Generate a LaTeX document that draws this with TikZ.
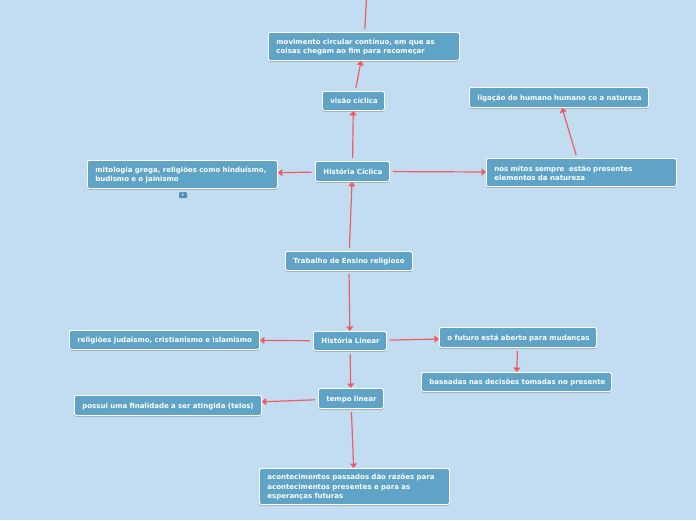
\documentclass[tikz,border=0pt]{standalone}
\usepackage{fontspec}
\setmainfont{DejaVu Sans}
\usetikzlibrary{shadows,arrows.meta}
\definecolor{mapbg}{HTML}{C2DDF1}
\definecolor{boxblue}{HTML}{5FA4C6}
\definecolor{badgeblue}{HTML}{4C8FB8}
\definecolor{linkred}{HTML}{EE5C62}
\tikzset{
    topic/.style={draw=white, fill=boxblue, text=white, rounded corners=1.5pt, line width=0.8pt,
        anchor=north west, inner xsep=8pt, inner ysep=0pt, align=left,
        font=\bfseries\fontsize{7}{9.2}\selectfont,
        execute at begin node={\rule[-1pt]{0pt}{8pt}},
        drop shadow={shadow xshift=0pt, shadow yshift=-1.3pt, fill=black!55, opacity=0.6}},
    link/.style={-{Stealth[width=7pt,length=4.5pt,inset=0pt]}, linkred, line width=1.2pt, shorten <=3pt}
}
\begin{document}
\begin{tikzpicture}[x=1pt,y=-1pt]
    \useasboundingbox[fill=mapbg] (0,0) rectangle (696,520);

    % Upper branch
    \node[topic, text width=175pt, minimum height=28pt] (movimento) at (268,32) {movimento circular contínuo, em que as\\coisas chegam ao fim para recomeçar};
    \node[topic, text width=46pt, minimum height=19pt] (visao) at (322,91) {\mbox{visão cíclica}};
    \node[topic, text width=163pt, minimum height=20pt] (ligacao) at (469,87) {\mbox{ligação do humano humano co a natureza}};
    \node[topic, text width=174pt, minimum height=28pt] (mitologia) at (87,160) {mitologia grega, religiões como hinduísmo,\\budismo e o jainismo};
    \node[topic, text width=58pt, minimum height=20pt] (ciclica) at (315,161) {\mbox{História Cíclica}};
    \node[topic, text width=174pt, minimum height=28pt] (mitos) at (486,158) {nos mitos sempre\ \ estão presentes\\elementos da natureza};
    \node[fill=badgeblue, text=white, rounded corners=1pt, inner sep=0pt, minimum width=8pt, minimum height=6pt, font=\bfseries\fontsize{4.5}{5}\selectfont] (info) at (183,195) {i};

    % Centre
    \node[topic, text width=111pt, minimum height=19pt] (trabalho) at (285,251) {\mbox{Trabalho de Ensino religioso}};

    % Lower branch
    \node[topic, text width=57pt, minimum height=19pt] (linear) at (313,331) {\mbox{História Linear}};
    \node[topic, text width=174pt, minimum height=19pt] (religioes) at (69,330) {\mbox{religiões judaismo, cristianismo e islamismo}};
    \node[topic, text width=141pt, minimum height=20pt] (futuro) at (439,327) {\mbox{o futuro está aberto para mudanças}};
    \node[topic, text width=174pt, minimum height=19pt] (baseadas) at (421,372) {\mbox{baseadas nas decisões tomadas no presente}};
    \node[topic, text width=49pt, minimum height=20pt] (tempo) at (318,388) {\mbox{tempo linear}};
    \node[topic, text width=171pt, minimum height=20pt] (possui) at (74,395) {\mbox{possui uma finalidade a ser atingida (telos)}};
    \node[topic, text width=174pt, minimum height=36pt] (passados) at (259,468) {acontecimentos passados dão razões para\\acontecimentos presentes e para as\\esperanças futuras};

    % Free end above the page
    \coordinate (acima) at (367,-12);

    % Links
    \draw[link] (movimento) -- (acima);
    \draw[link] (visao) -- (movimento);
    \draw[link] (ciclica) -- (visao);
    \draw[link] (ciclica) -- (mitologia);
    \draw[link] (ciclica) -- (mitos);
    \draw[link] (mitos) -- (ligacao);
    \draw[link] (trabalho) -- (ciclica);
    \draw[link] (trabalho) -- (linear);
    \draw[link] (linear) -- (religioes);
    \draw[link] (linear) -- (futuro);
    \draw[link] (futuro) -- (baseadas);
    \draw[link] (linear) -- (tempo);
    \draw[link] (tempo) -- (possui);
    \draw[link] (tempo) -- (passados);
\end{tikzpicture}
\end{document}
